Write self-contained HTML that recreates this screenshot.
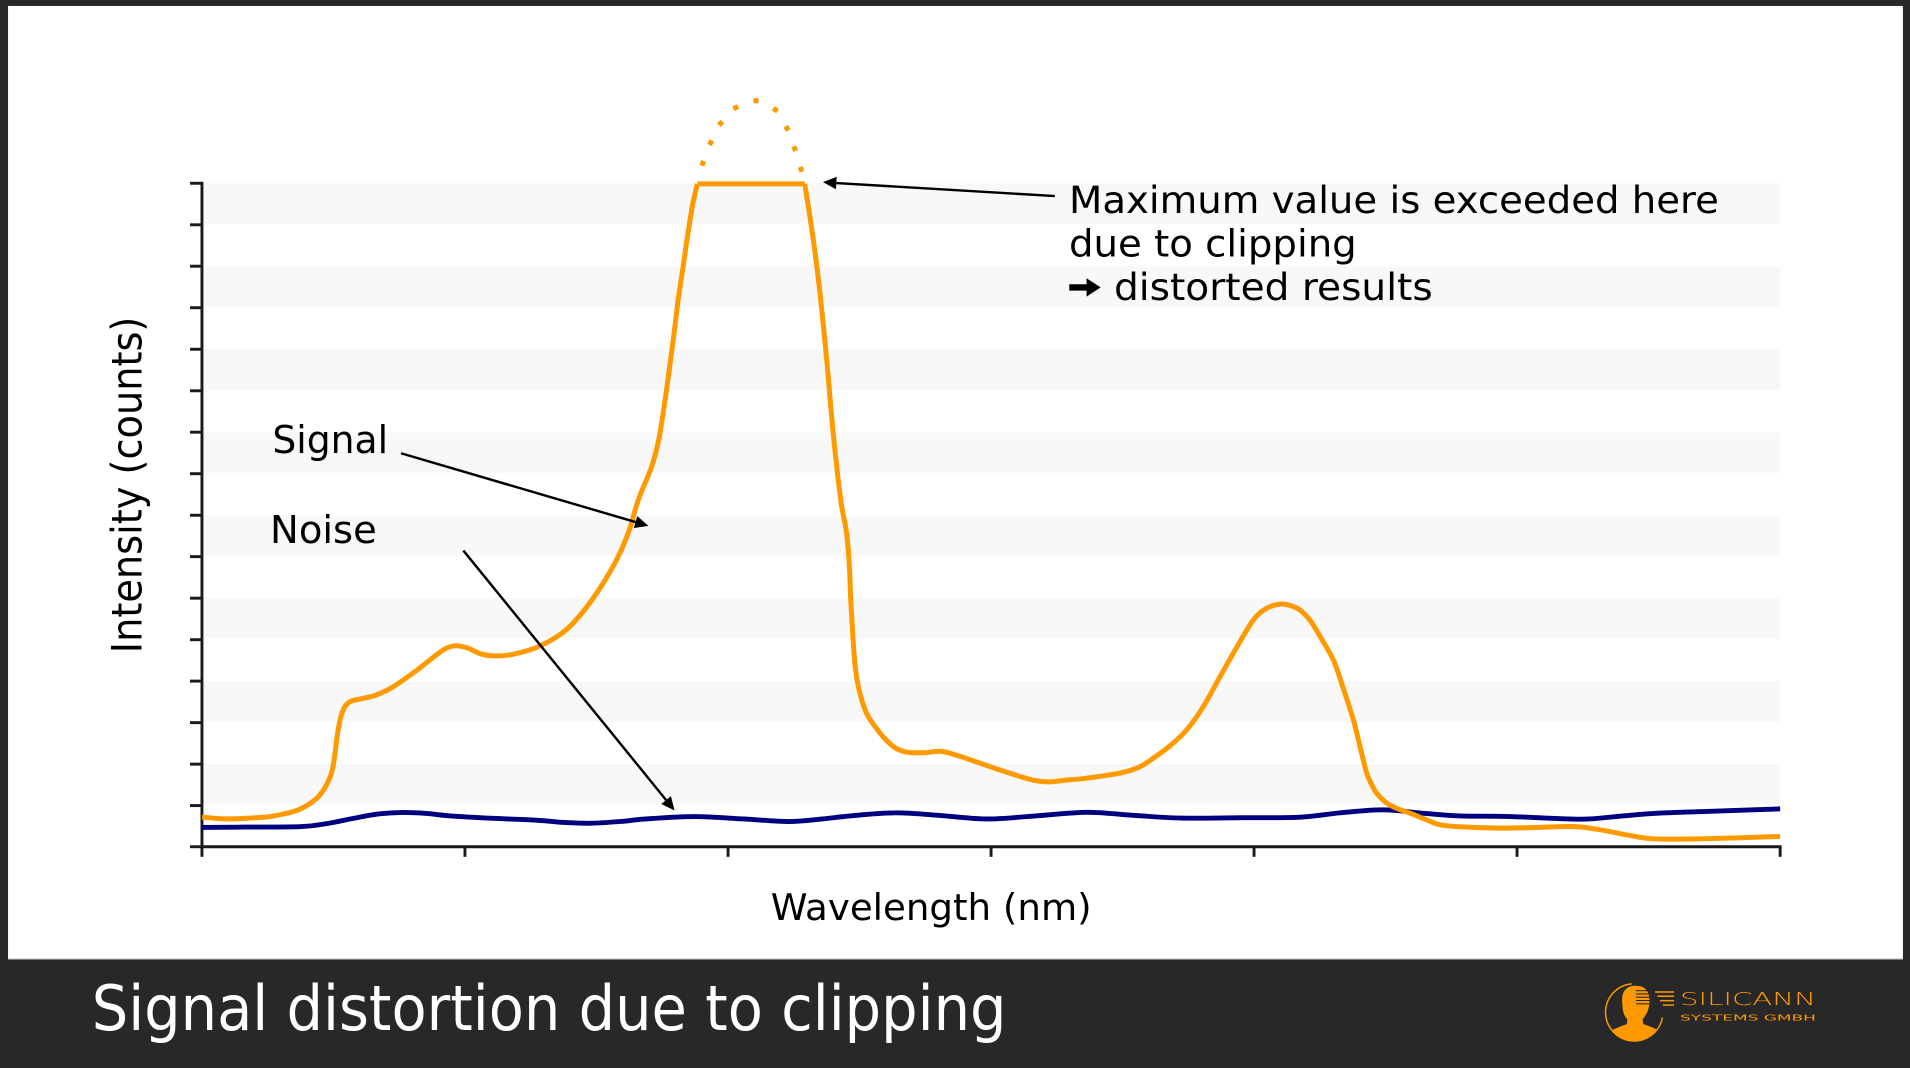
<!DOCTYPE html>
<html>
<head>
<meta charset="utf-8">
<style>
html,body{margin:0;padding:0;background:#282828;}
svg{display:block;}
text{font-family:"DejaVu Sans","Liberation Sans",sans-serif;}
</style>
</head>
<body>
<svg id="chart" width="1910" height="1068" viewBox="0 0 1568 877" preserveAspectRatio="none" xmlns="http://www.w3.org/2000/svg">
  <!-- frame -->
  <rect x="0" y="0" width="1568" height="877" fill="#282828"/>
  <rect x="6.6" y="4.9" width="1555.6" height="783" fill="#ffffff"/>
  <line x1="6.6" y1="787.6" x2="1562.2" y2="787.6" stroke="#a8a8a8" stroke-width="0.9"/>

  <!-- stripes -->
  <g fill="#f8f8f8">
    <rect x="166" y="150.5" width="1295.4" height="33.3"/>
    <rect x="166" y="218.6" width="1295.4" height="33.3"/>
    <rect x="166" y="286.8" width="1295.4" height="33.3"/>
    <rect x="166" y="354.9" width="1295.4" height="33.3"/>
    <rect x="166" y="423.1" width="1295.4" height="33.3"/>
    <rect x="166" y="491.2" width="1295.4" height="33.3"/>
    <rect x="166" y="559.3" width="1295.4" height="33.3"/>
    <rect x="166" y="627.5" width="1295.4" height="33.3"/>
  </g>

  <!-- axes -->
  <g stroke="#1a1a1a" stroke-width="2.4" fill="none">
    <line x1="165.8" y1="149.3" x2="165.8" y2="696.5"/>
    <line x1="164.6" y1="695.3" x2="1462.6" y2="695.3"/>
    <line x1="156" y1="150.5" x2="166" y2="150.5"/>
    <line x1="156" y1="184.6" x2="166" y2="184.6"/>
    <line x1="156" y1="218.6" x2="166" y2="218.6"/>
    <line x1="156" y1="252.7" x2="166" y2="252.7"/>
    <line x1="156" y1="286.8" x2="166" y2="286.8"/>
    <line x1="156" y1="320.9" x2="166" y2="320.9"/>
    <line x1="156" y1="354.9" x2="166" y2="354.9"/>
    <line x1="156" y1="389.0" x2="166" y2="389.0"/>
    <line x1="156" y1="423.1" x2="166" y2="423.1"/>
    <line x1="156" y1="457.1" x2="166" y2="457.1"/>
    <line x1="156" y1="491.2" x2="166" y2="491.2"/>
    <line x1="156" y1="525.3" x2="166" y2="525.3"/>
    <line x1="156" y1="559.3" x2="166" y2="559.3"/>
    <line x1="156" y1="593.4" x2="166" y2="593.4"/>
    <line x1="156" y1="627.5" x2="166" y2="627.5"/>
    <line x1="156" y1="661.5" x2="166" y2="661.5"/>
    <line x1="156" y1="695.3" x2="166" y2="695.3"/>
    <line x1="165.8" y1="695" x2="165.8" y2="703.6"/>
    <line x1="381.7" y1="695" x2="381.7" y2="703.6"/>
    <line x1="597.7" y1="695" x2="597.7" y2="703.6"/>
    <line x1="813.6" y1="695" x2="813.6" y2="703.6"/>
    <line x1="1029.5" y1="695" x2="1029.5" y2="703.6"/>
    <line x1="1245.4" y1="695" x2="1245.4" y2="703.6"/>
    <line x1="1461.4" y1="695" x2="1461.4" y2="703.6"/>
  </g>

  <!-- noise (blue) -->
  <polyline class="smooth" fill="none" stroke="#000080" stroke-width="4" stroke-linejoin="round" stroke-linecap="butt"
    points="165.8,679.5 200,679.2 248,678.7 270,676 290,672 310,668.5 328.4,667.2 350,668 370,670 405.4,672 440,673.5 465,675.5 486,676 510,674.5 530,672.5 570.3,670.5 610,672.5 647.3,674.6 675,672.5 698,670 735,667.5 770,669.5 810,672.5 850,670 892,667 930,669.5 970,671.8 1020,671.5 1067.3,671 1100,667.5 1135.7,665 1170,668 1198.7,670 1239.7,670.5 1297,672.7 1330,670.2 1362.8,667.7 1410,666 1461.4,664.2"/>

  <!-- signal (orange), split at the clipped flat top -->
  <polyline class="smooth" fill="none" stroke="#ff9900" stroke-width="4.1" stroke-linejoin="round" stroke-linecap="butt"
    points="165.8,671 180,672.2 192.8,672.4 210,671.5 225,670 245,665 258.6,656.8 266,648 271,638 273.4,629.4 275.5,615 277,603 279,592 280.8,585.4 284,579 289,575.5 295.4,574 308,571 321,565 340,552 358,538 366,532.5 372.4,530.4 379,530.8 385,532.5 395,537 405.4,538.6 420,537.5 442,531 465,517 486,492.6 505,462 516,437 524,410.5 535,383 541,360 546,328.4 549.5,303 553.4,273.5 556.5,248 560.8,219 563.5,200 566.5,180.6 569,166 572.5,151"/>
  <line x1="572.5" y1="151" x2="660.6" y2="151" stroke="#ff9900" stroke-width="4.1"/>
  <polyline class="smooth" fill="none" stroke="#ff9900" stroke-width="4.1" stroke-linejoin="round" stroke-linecap="butt"
    points="660.6,151 664,172 667.7,197 670.5,218 673.2,240.8 676,268 679.2,301 684,355.7 690.2,410.5 695,437.6 697.3,465 698.4,492.6 700,520 702,547 704.5,563 707.4,574.7 712,587 718.4,596.6 725,605 733.4,613 740,616.5 747,618 760,618 773,617 788,621 804.6,626.7 820,632 837.4,637.6 850,641 862,642 876,640.5 892,639 919.5,634.8 935,630 946.8,622.6 961,612 974.3,599.3 988,580 1001.6,555.6 1015,532 1029,509 1040,499.4 1052,496 1060,497.5 1067.3,501 1076,510 1083.7,522.7 1094.6,541.9 1103,566 1111,591 1116.5,613 1122,634.9 1126,644 1130.2,651.4 1138.5,659.5 1146.6,663.8 1157.6,667.7 1171.2,673.3 1182.3,677.3 1200,679 1231.5,680 1260,679.5 1291.7,678.7 1313.6,681.4 1335,685.5 1357.4,688.8 1395.7,688.8 1461.4,686.9"/>

  <!-- dotted extension of clipped peak -->
  <g fill="#ff9900">
    <rect x="-2.1" y="-2.1" width="4.2" height="4.2" transform="translate(576.9,134.1) rotate(-69)"/>
    <rect x="-2.1" y="-2.1" width="4.2" height="4.2" transform="translate(583.4,117.2) rotate(-63)"/>
    <rect x="-2.1" y="-2.1" width="4.2" height="4.2" transform="translate(591.6,101.3) rotate(-48)"/>
    <rect x="-2.1" y="-2.1" width="4.2" height="4.2" transform="translate(604,88.4) rotate(-25)"/>
    <rect x="-2.1" y="-2.1" width="4.2" height="4.2" transform="translate(620.6,82.7) rotate(0)"/>
    <rect x="-2.1" y="-2.1" width="4.2" height="4.2" transform="translate(636.5,90.1) rotate(30)"/>
    <rect x="-2.1" y="-2.1" width="4.2" height="4.2" transform="translate(646.1,105.4) rotate(57)"/>
    <rect x="-2.1" y="-2.1" width="4.2" height="4.2" transform="translate(652.4,122.1) rotate(68)"/>
    <rect x="-2.1" y="-2.1" width="4.2" height="4.2" transform="translate(657.6,139) rotate(73)"/>
  </g>

  <!-- annotation arrows -->
  <g stroke="#000" stroke-width="2" fill="none">
    <line x1="866" y1="161" x2="686.6" y2="150.3"/>
    <line x1="329.2" y1="372.2" x2="521.8" y2="428.7"/>
    <line x1="380.4" y1="452.1" x2="546.9" y2="657"/>
  </g>
  <g fill="#000">
    <polygon points="675.6,149.6 686.9,145.1 686.3,155.4"/>
    <polygon points="532.3,431.8 520.3,433.6 523.2,423.8"/>
    <polygon points="553.8,665.5 542.9,660.2 550.8,653.7"/>
  </g>

  <!-- annotation texts -->
  <g fill="#000" font-size="30.5">
    <text x="877.6" y="175" textLength="533.5" lengthAdjust="spacingAndGlyphs">Maximum value is exceeded here</text>
    <text x="877.6" y="210.8" textLength="236.2" lengthAdjust="spacingAndGlyphs">due to clipping</text>
    <text x="914.5" y="246.5" textLength="261.7" lengthAdjust="spacingAndGlyphs">distorted results</text>
    <text x="223.6" y="372" font-size="31.5" textLength="95" lengthAdjust="spacingAndGlyphs">Signal</text>
    <text x="221.7" y="446" font-size="31.5" textLength="87.6" lengthAdjust="spacingAndGlyphs">Noise</text>
    <text x="632.7" y="755.3" font-size="30" textLength="263.5" lengthAdjust="spacingAndGlyphs">Wavelength (nm)</text>
    <text transform="translate(116.3,536.4) rotate(-90)" x="0" y="0" font-size="34" textLength="276.4" lengthAdjust="spacingAndGlyphs">Intensity (counts)</text>
  </g>
  <polygon fill="#000" points="877.8,233.4 892,233.4 892,228.5 903.6,236 892,243.6 892,238.7 877.8,238.7"/>

  <!-- title -->
  <text x="75.3" y="846" fill="#ffffff" font-size="51.5" textLength="751" lengthAdjust="spacingAndGlyphs">Signal distortion due to clipping</text>

  <!-- logo -->
  <g>
    <path d="M 1339.5,807.9 A 23.5 23.5 0 1 0 1364.7,835.5" fill="none" stroke="#ff9900" stroke-width="1.2"/>
    <clipPath id="lc"><circle cx="1341.6" cy="831.4" r="23.5"/></clipPath>
    <path clip-path="url(#lc)" fill="#ff9900" d="M 1332,826 C 1330,812 1337,809.5 1343,809.5 C 1351,809.5 1355,815 1354,824 C 1353.5,830 1351,834 1348.5,837 L 1349,841 C 1355,843 1361,845 1364,849 L 1364,860 L 1318,860 L 1319,849 C 1324,845 1330,843 1335.5,841 L 1336,837 C 1333,834 1332,830 1332,826 Z"/>
    <g stroke="#282828" stroke-width="0.9">
      <line x1="1343" y1="813.5" x2="1355" y2="813.5"/>
      <line x1="1343" y1="816.2" x2="1355" y2="816.2"/>
      <line x1="1343" y1="818.9" x2="1355" y2="818.9"/>
      <line x1="1343" y1="821.6" x2="1355" y2="821.6"/>
      <line x1="1343" y1="824.3" x2="1355" y2="824.3"/>
    </g>
    <g stroke="#ff9900" stroke-width="1.2">
      <line x1="1358.7" y1="814.6" x2="1374.3" y2="814.6"/>
      <line x1="1360.6" y1="818.1" x2="1374.3" y2="818.1"/>
      <line x1="1362.8" y1="821.7" x2="1374.3" y2="821.7"/>
      <line x1="1365" y1="825.3" x2="1374.3" y2="825.3"/>
    </g>
    <text x="1379.2" y="825.1" fill="#ff9900" font-size="14.3" font-weight="200" textLength="111.6" lengthAdjust="spacingAndGlyphs">SILICANN</text>
    <text x="1379.2" y="837.9" fill="#ff9900" font-size="6.8" textLength="111.6" lengthAdjust="spacingAndGlyphs">SYSTEMS GMBH</text>
  </g>
</svg>
<script>
(function(){
  try{
    var NS="http://www.w3.org/2000/svg";
    var pls=document.querySelectorAll("polyline.smooth");
    for(var k=0;k<pls.length;k++){
      var pl=pls[k];
      var raw=pl.getAttribute("points").trim().split(/\s+/);
      var p=[];
      for(var i=0;i<raw.length;i++){var c=raw[i].split(",");p.push([parseFloat(c[0]),parseFloat(c[1])]);}
      if(p.length<3) continue;
      var d="M"+p[0][0]+","+p[0][1];
      var t=0.5;
      for(var i=0;i<p.length-1;i++){
        var p0=p[i>0?i-1:i],p1=p[i],p2=p[i+1],p3=p[i+2<p.length?i+2:i+1];
        var c1x=p1[0]+(p2[0]-p0[0])/6*t*2,c1y=p1[1]+(p2[1]-p0[1])/6*t*2;
        var c2x=p2[0]-(p3[0]-p1[0])/6*t*2,c2y=p2[1]-(p3[1]-p1[1])/6*t*2;
        d+=" C"+c1x.toFixed(2)+","+c1y.toFixed(2)+" "+c2x.toFixed(2)+","+c2y.toFixed(2)+" "+p2[0]+","+p2[1];
      }
      var path=document.createElementNS(NS,"path");
      path.setAttribute("d",d);
      path.setAttribute("fill","none");
      path.setAttribute("stroke",pl.getAttribute("stroke"));
      path.setAttribute("stroke-width",pl.getAttribute("stroke-width"));
      path.setAttribute("stroke-linejoin","round");
      path.setAttribute("stroke-linecap","butt");
      pl.parentNode.replaceChild(path,pl);
    }
  }catch(e){}
})();
</script>
</body>
</html>
